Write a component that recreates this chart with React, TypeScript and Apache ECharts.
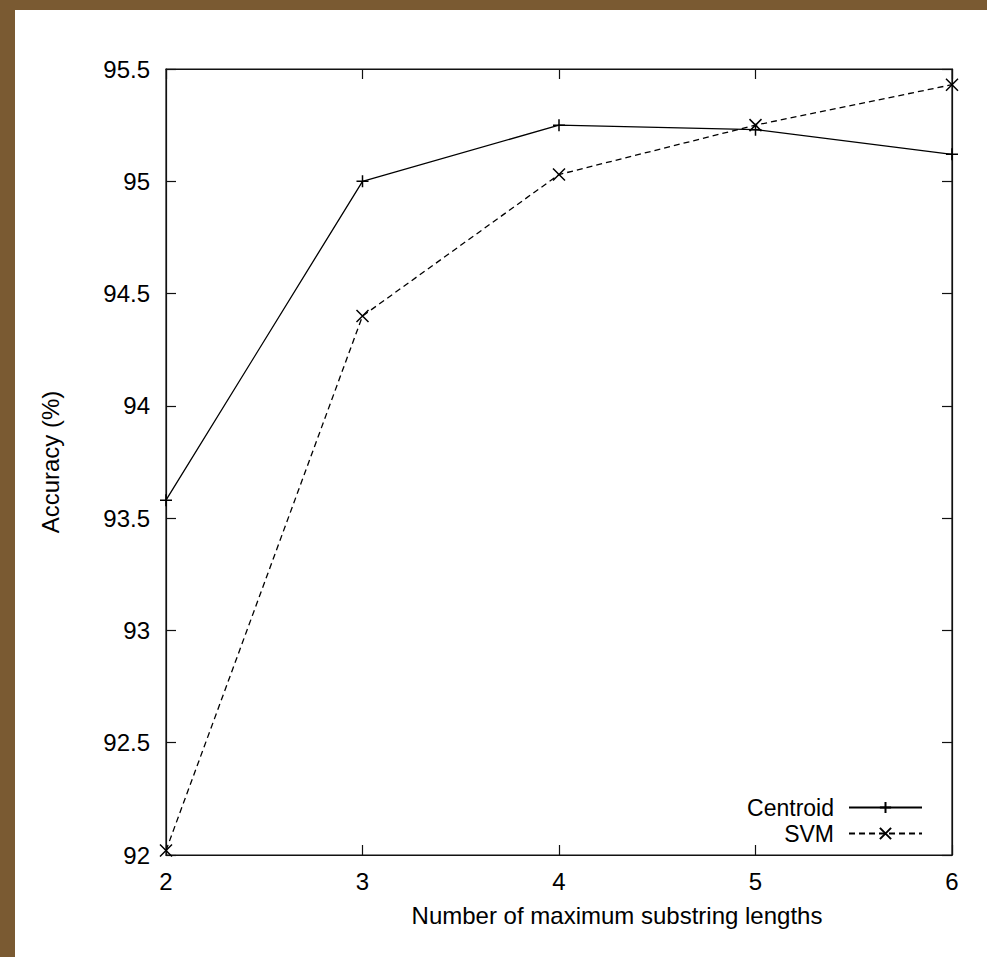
import React, { useEffect, useRef } from "react";
import * as echarts from "echarts";

const xValues = [2, 3, 4, 5, 6];
const centroid = [93.58, 95.0, 95.25, 95.23, 95.12];
const svm = [92.02, 94.4, 95.03, 95.25, 95.43];
const seriesNames = ["Centroid", "SVM"];
const xAxisTitle = "Number of maximum substring lengths";
const yAxisTitle = "Accuracy (%)";

const FONT = "'Liberation Sans', Arial, Helvetica, sans-serif";
const PLUS = "path://M5,0L5,10M0,5L10,5";
const CROSS = "path://M0,0L10,10M10,0L0,10";

export default function App() {
  const ref = useRef<HTMLDivElement>(null);
  useEffect(() => {
    document.body.style.margin = "0";
    if (!ref.current) return;
    const chart = echarts.init(ref.current, undefined, { renderer: "svg" });
    const axisLine = { show: true, lineStyle: { color: "#111", width: 1.2 } };
    const axisTick = { show: true, inside: true, length: 10, lineStyle: { color: "#111", width: 1.2 } };
    chart.setOption({
      animation: false,
      backgroundColor: "#ffffff",
      textStyle: { fontFamily: FONT },
      grid: { left: 151, top: 59, width: 786, height: 786, show: true, borderColor: "#111", borderWidth: 1.2, backgroundColor: "transparent" },
      legend: {
        data: seriesNames,
        orient: "vertical",
        align: "right",
        right: 64,
        top: 786,
        itemWidth: 73,
        itemHeight: 14,
        itemGap: 3,
        padding: 0,
        textStyle: { fontFamily: FONT, fontSize: 23, color: "#000", lineHeight: 21, padding: [0, 10, 0, 0] },
      },
      xAxis: [
        {
          type: "value",
          min: 2,
          max: 6,
          interval: 1,
          position: "bottom",
          name: xAxisTitle,
          nameLocation: "middle",
          nameGap: 48,
          nameTextStyle: { fontFamily: FONT, fontSize: 24, color: "#000", padding: [0, 0, 0, 116] },
          axisLine,
          axisTick,
          splitLine: { show: false },
          axisLabel: { fontFamily: FONT, fontSize: 24, color: "#000", margin: 14 },
        },
        {
          type: "value",
          min: 2,
          max: 6,
          interval: 1,
          position: "top",
          axisLine,
          axisTick,
          splitLine: { show: false },
          axisLabel: { show: false },
        },
      ],
      yAxis: [
        {
          type: "value",
          min: 92,
          max: 95.5,
          interval: 0.5,
          position: "left",
          name: yAxisTitle,
          nameLocation: "middle",
          nameGap: 104,
          nameRotate: 90,
          nameTextStyle: { fontFamily: FONT, fontSize: 24, color: "#000" },
          axisLine,
          axisTick,
          splitLine: { show: false },
          axisLabel: { fontFamily: FONT, fontSize: 24, color: "#000", margin: 16 },
        },
        {
          type: "value",
          min: 92,
          max: 95.5,
          interval: 0.5,
          position: "right",
          axisLine,
          axisTick,
          splitLine: { show: false },
          axisLabel: { show: false },
        },
      ],
      series: [
        {
          name: seriesNames[0],
          type: "line",
          data: xValues.map((x, i) => [x, centroid[i]]),
          symbol: PLUS,
          symbolSize: 12,
          showAllSymbol: true,
          lineStyle: { color: "#000", width: 1.3, type: "solid" },
          itemStyle: { color: "none", borderColor: "#000", borderWidth: 1.5 },
          z: 3,
        },
        {
          name: seriesNames[1],
          type: "line",
          data: xValues.map((x, i) => [x, svm[i]]),
          symbol: CROSS,
          symbolSize: 12,
          showAllSymbol: true,
          lineStyle: { color: "#000", width: 1.3, type: [6, 4] },
          itemStyle: { color: "none", borderColor: "#000", borderWidth: 1.5 },
          z: 3,
        },
      ],
    });
    return () => chart.dispose();
  }, []);
  return (
    <div style={{ position: "absolute", left: 0, top: 0, width: 987, height: 957, background: "#7a5a32", overflow: "hidden" }}>
      <div ref={ref} style={{ position: "absolute", left: 15, top: 10, width: 972, height: 947, background: "#fff" }} />
    </div>
  );
}
